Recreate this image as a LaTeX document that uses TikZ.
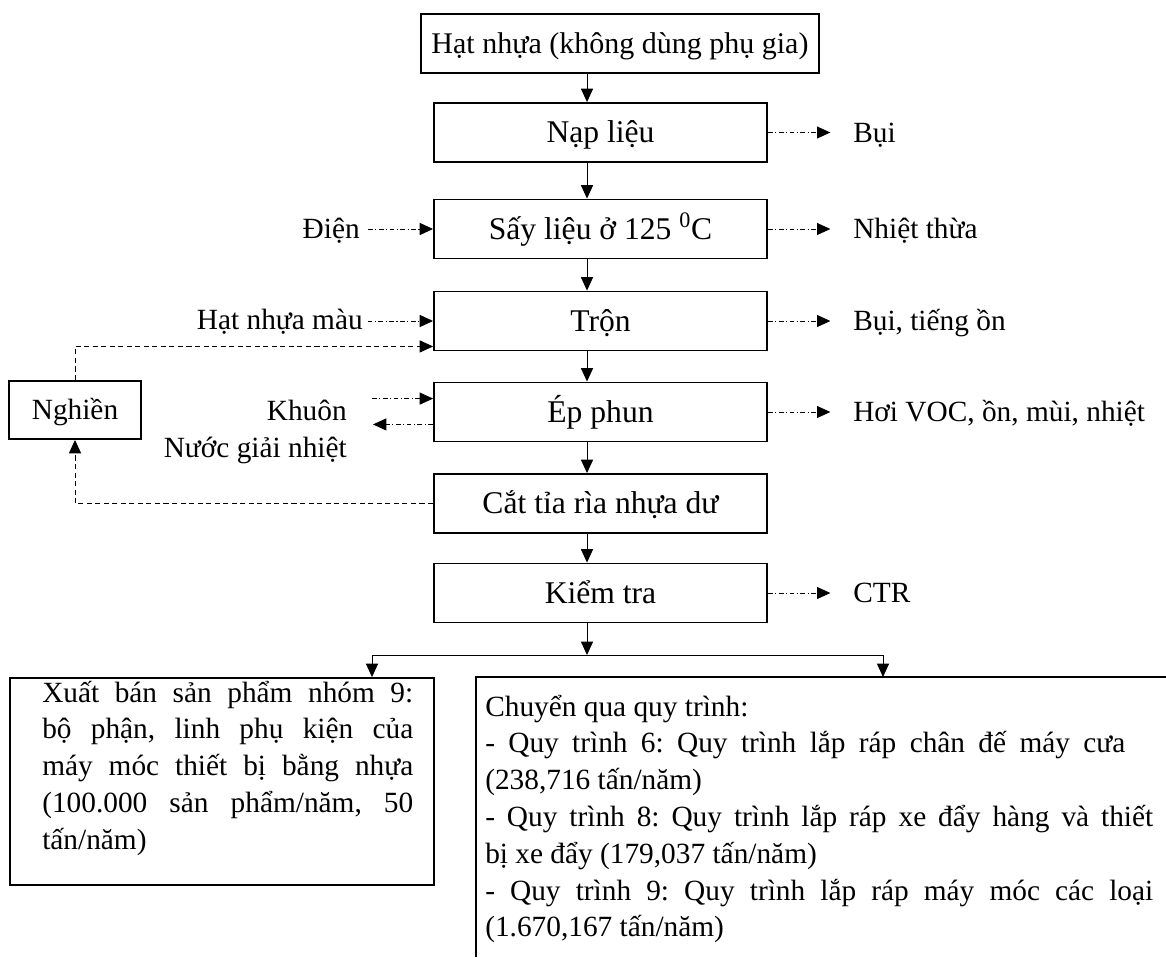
\documentclass[tikz,border=0pt]{standalone}
\usepackage{fontspec}
\setmainfont{Liberation Serif}
\usetikzlibrary{arrows.meta,calc}
\frenchspacing
\begin{document}
\begin{tikzpicture}[x=0.75pt,y=-0.75pt,
  txt/.style={font=\fontsize{22}{27.6}\selectfont},
  box/.style={draw, line width=1.4pt, minimum width=249.75pt,
    minimum height=44.25pt, inner sep=0pt,
    font=\fontsize{23.7}{28}\selectfont, text height=20.7pt, text depth=5pt},
  frame/.style={line width=1.4pt},
  flow/.style={line width=0.7pt, -{Triangle[length=10pt,width=9pt]}},
  aux/.style={flow, dash pattern=on 3.6pt off 1.8pt on 0.9pt off 1.8pt},
  back/.style={flow, dash pattern=on 3.8pt off 2.6pt},
  lbl/.style={txt, inner sep=0pt}]
\useasboundingbox (0,0) rectangle (1166,957);

% main process column
\coordinate (ax) at (587,0);
\node[box, minimum width=298.5pt, font=\fontsize{22.5}{27}\selectfont,
  text height=19.9pt] (raw) at (620,43.5) {Hạt nhựa (không dùng phụ gia)};
\node[box] (feed)  at (600.5,132.5) {Nạp liệu};
\node[box] (dry)   at (600.5,229)   {Sấy liệu ở 125 \textsuperscript{0}C};
\node[box] (mix)   at (600.5,321)   {Trộn};
\node[box] (mold)  at (600.5,412)   {Ép phun};
\node[box] (trim)  at (600.5,503.5) {Cắt tỉa rìa nhựa dư};
\node[box] (check) at (600.5,593)   {Kiểm tra};
\node[box, minimum width=99pt, minimum height=43.5pt,
  font=\fontsize{22}{27}\selectfont, text height=19.6pt] (grind) at (75,410) {Nghiền};

\foreach \a/\b in {raw/feed, feed/dry, dry/mix, mix/mold, mold/trim, trim/check}
  \draw[flow] (\a.south -| ax) -- (\b.north -| ax);

% outputs on the right
\node[lbl, anchor=base west] (dust)  at (853,142) {Bụi};
\node[lbl, anchor=base west] (heat)  at (853,238) {Nhiệt thừa};
\node[lbl, anchor=base west] (noise) at (853,330) {Bụi, tiếng ồn};
\node[lbl, anchor=base west] (voc)   at (853,421) {Hơi VOC, ồn, mùi, nhiệt};
\node[lbl, anchor=base west] (waste) at (853,602) {CTR};
\foreach \a/\b in {feed/dust, dry/heat, mix/noise, mold/voc, check/waste}
  \draw[aux, shorten >=17pt] (\a.east) -- (\a.east -| \b.west);

% inputs on the left
\node[lbl, anchor=base east] (power) at (360,238) {Điện};
\draw[aux, shorten <=6pt] (dry.west -| power.east) -- (dry.west);
\node[lbl, anchor=base east] (color) at (363,329) {Hạt nhựa màu};
\draw[aux, shorten <=3.5pt] (mix.west -| color.east) -- (mix.west);

\node[lbl, anchor=base east] (die)  at (347,420) {Khuôn};
\node[lbl, anchor=base east] (cool) at (347,457) {Nước giải nhiệt};
\coordinate (dieIn)   at ($(mold.north west)+(0,17)$);
\coordinate (coolOut) at ($(mold.south west)+(0,-18)$);
\draw[aux, shorten <=18.75pt] (dieIn -| die.east) -- (dieIn);
\draw[aux, shorten >=19.5pt] (coolOut) -- (coolOut -| cool.east);

% recycling loop
\draw[back] (grind.north) |- ($(mix.south west)+(0,-5)$);
\draw[back] (trim.west) -| (grind.south);

% final split
\coordinate (split) at (587,655);
\draw[flow] (check.south -| ax) -- (split);

\node[draw, frame, minimum width=318pt, minimum height=155.25pt, inner sep=0pt] (sale) at (222,781.5) {};
\node[lbl, anchor=base west] (saletext) at (42,702) {\parbox[t]{278.25pt}{\fontsize{22}{27.6}\selectfont
\makebox[\linewidth][s]{Xuất bán sản phẩm nhóm 9:}\\
\makebox[\linewidth][s]{bộ phận, linh phụ kiện của}\\
\makebox[\linewidth][s]{máy móc thiết bị bằng nhựa}\\
\makebox[\linewidth][s]{(100.000 sản phẩm/năm, 50}\\
tấn/năm)}};

\coordinate (convNW) at (476,677);
\draw[frame] (1166,677) -- (convNW) -- (476,957);
\node[lbl, anchor=base west] (convtext) at (485,716) {\parbox[t]{501pt}{\fontsize{22}{27.6}\selectfont
Chuyển qua quy trình:\\
\makebox[480pt][s]{- Quy trình 6: Quy trình lắp ráp chân đế máy cưa}\\
(238,716 tấn/năm)\\
\makebox[\linewidth][s]{- Quy trình 8: Quy trình lắp ráp xe đẩy hàng và thiết}\\
bị xe đẩy (179,037 tấn/năm)\\
\makebox[\linewidth][s]{- Quy trình 9: Quy trình lắp ráp máy móc các loại}\\
(1.670,167 tấn/năm)}};

\draw[flow] (split) -| ($(sale.north)+(150,0)$);
\draw[flow] (split) -| ($(convNW)+(407,0)$);
\end{tikzpicture}
\end{document}
